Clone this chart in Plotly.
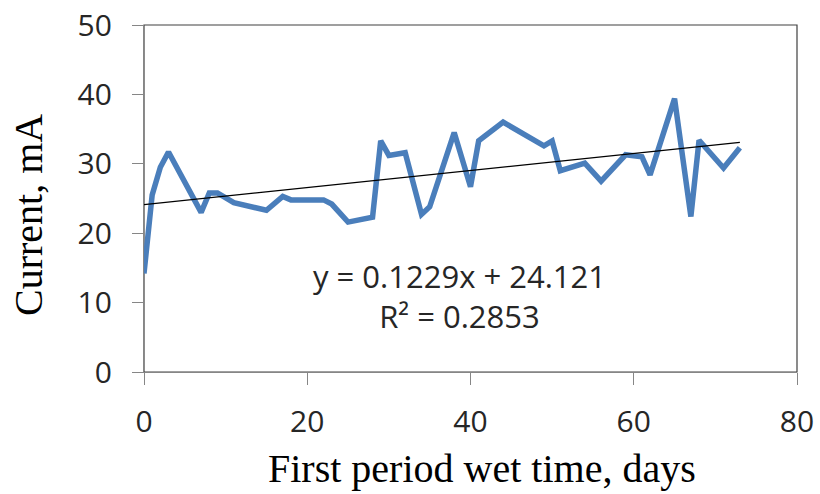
import plotly.graph_objects as go

days = [0, 1, 2, 3, 7, 8, 9, 11, 15, 17, 18, 22, 23, 25, 28, 29, 30, 32, 34, 35,
        38, 40, 41, 44, 49, 50, 51, 54, 56, 59, 61, 62, 65, 67, 68, 71, 73]
current = [14.2, 25.5, 29.5, 31.7, 23.0, 25.8, 25.8, 24.4, 23.3, 25.3, 24.8, 24.8,
           24.2, 21.6, 22.3, 33.3, 31.2, 31.6, 22.7, 23.8, 34.5, 26.7, 33.3, 36.0,
           32.6, 33.3, 29.0, 30.1, 27.5, 31.3, 31.0, 28.4, 39.4, 22.4, 33.4, 29.4, 32.3]

slope = 0.1229
intercept = 24.121
r2 = 0.2853
trend_x = [days[0], days[-1]]
trend_y = [slope * x + intercept for x in trend_x]

x_ticks = [0, 20, 40, 60, 80]
y_ticks = [0, 10, 20, 30, 40, 50]

fig = go.Figure()
fig.add_trace(go.Scatter(x=days, y=current, mode="lines",
                         line=dict(color="#4A7EBB", width=5.5), showlegend=False))
fig.add_trace(go.Scatter(x=trend_x, y=trend_y, mode="lines",
                         line=dict(color="#000000", width=1.3), showlegend=False))

tick_font = dict(family="Open Sans", size=30, color="#262626")
title_font = dict(family="Liberation Serif", size=40, color="#000000")
fig.update_layout(
    width=820, height=494,
    margin=dict(l=144, r=23, t=25, b=122),
    paper_bgcolor="white", plot_bgcolor="white",
    shapes=[dict(type="rect", xref="paper", yref="paper", x0=0, y0=0, x1=1, y1=1,
                 line=dict(color="#404040", width=1.2), layer="below")],
    annotations=[
        dict(x=38.7, y=10.9, xref="x", yref="y",
             text=f"y = {slope}x + {intercept}<br>R² = {r2}",
             showarrow=False, font=dict(family="Open Sans", size=31, color="#262626"),
             align="center", xanchor="center", yanchor="middle"),
        dict(x=482, y=468, xref="paper", yref="paper", text="First period wet time, days",
             showarrow=False, font=title_font, xanchor="center", yanchor="middle"),
        dict(x=28, y=215, xref="paper", yref="paper", text="Current, mA",
             showarrow=False, font=title_font, textangle=-90,
             xanchor="center", yanchor="middle"),
    ],
)
# convert pixel positions of axis-title annotations into paper fractions
pw, ph = 820 - 144 - 23, 494 - 25 - 122
for a in fig.layout.annotations[1:]:
    a.x = (a.x - 144) / pw
    a.y = (494 - 122 - a.y) / ph
fig.update_xaxes(range=[0, 80], tickvals=x_ticks, ticks="outside", ticklen=12,
                 tickcolor="#868686", showline=True, linecolor="#868686", linewidth=1.2,
                 showgrid=False, zeroline=False, tickfont=tick_font, ticklabelstandoff=11,
                 automargin=False)
fig.update_yaxes(range=[0, 50], tickvals=y_ticks, ticks="outside", ticklen=11,
                 tickcolor="#868686", showline=True, linecolor="#868686", linewidth=1.2,
                 showgrid=False, zeroline=False, tickfont=tick_font, ticklabelstandoff=14,
                 automargin=False)

fig.write_html("out.html")
